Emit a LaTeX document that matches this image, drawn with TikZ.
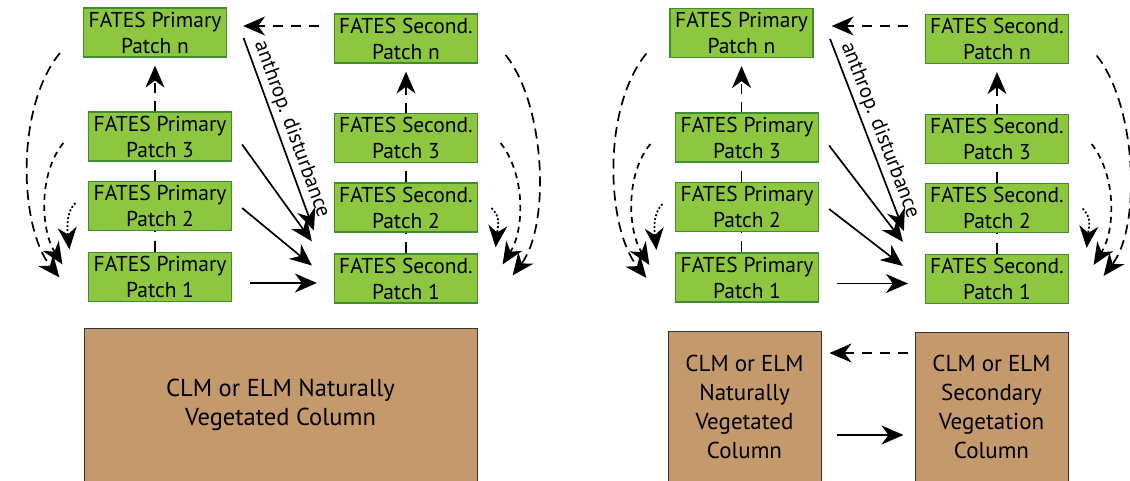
\documentclass[tikz,border=0pt]{standalone}
\usepackage{fontspec}
\setmainfont{PT Sans}
\definecolor{fatesgreen}{RGB}{141, 198, 63}
\definecolor{fatesedge}{RGB}{64, 140, 48}
\definecolor{clmbrown}{RGB}{196, 153, 108}
\usetikzlibrary{arrows.meta}

\begin{document}
\begin{tikzpicture}[x=1pt, y=-1pt,
        patch/.style={draw=fatesedge, line width=1.2pt, fill=fatesgreen, minimum width=143pt, minimum height=49pt, inner sep=0pt, align=center, font=\fontsize{21.5}{26}\selectfont},
        column/.style={draw=black!80, line width=1pt, fill=clmbrown, inner sep=0pt, align=center, font=\fontsize{23}{29}\selectfont},
        arrow/.style={-{Stealth[length=22pt, width=19pt, inset=7pt]}, line width=1.7pt},
        dasharrow/.style={arrow, dash pattern=on 10pt off 8pt},
        vline/.style={line width=1.7pt, dash pattern=on 11pt off 9pt},
        longarc/.style={arrow, dash pattern=on 10pt off 6pt},
        midarc/.style={arrow, dash pattern=on 6pt off 5pt},
        dotarc/.style={arrow, dash pattern=on 2pt off 2pt},
        disturb/.style={midway, sloped, above, font=\fontsize{21}{24}\selectfont}
      ]
        \useasboundingbox (0, 0) rectangle (1130, 481);

        % left panel: one naturally vegetated column
        \node[patch] (pn) at (155, 32.5)  {FATES Primary\\Patch n};
        \node[patch] (p3) at (160, 136.5) {FATES Primary\\Patch 3};
        \node[patch] (p2) at (160, 206)   {FATES Primary\\Patch 2};
        \node[patch] (p1) at (160, 277)   {FATES Primary\\Patch 1};
        \node[patch] (sn) at (406, 38.5)  {FATES Second.\\Patch n};
        \node[patch] (s3) at (406, 138)   {FATES Second.\\Patch 3};
        \node[patch] (s2) at (406, 207.5) {FATES Second.\\Patch 2};
        \node[patch] (s1) at (406, 278.5) {FATES Second.\\Patch 1};
        \node[column, minimum width=393pt, minimum height=154pt, font=\fontsize{24.5}{29}\selectfont] (natcol) at (280.5, 405) {CLM or ELM Naturally\\Vegetated Column};

        \draw[vline] (p1.north -| pn) -- (p2.south -| pn);
        \draw[vline] (p2.north -| pn) -- (p3.south -| pn);
        \draw[dasharrow, shorten >=8pt] (p3.north -| pn) -- (pn.south);
        \draw[vline] (s1.north) -- (s2.south);
        \draw[vline] (s2.north) -- (s3.south);
        \draw[dasharrow, shorten >=8pt] (s3.north) -- (sn.south);
        \draw[dasharrow, shorten <=15pt, shorten >=16pt] ([yshift=12.5pt]sn.west) -- ([yshift=6.5pt]pn.east);
        \draw[arrow] ([xshift=16.5pt, yshift=-5.5pt]pn.east) -- ([xshift=-20pt, yshift=2pt]s2.south west) node[disturb] {anthrop. disturbance};
        \draw[arrow] ([xshift=10pt, yshift=-8pt]p3.east) -- ([xshift=-22pt, yshift=12pt]s1.north west);
        \draw[arrow] ([xshift=10pt, yshift=-2pt]p2.east) -- ([xshift=-22pt, yshift=13pt]s1.west);
        \draw[arrow] ([xshift=18pt, yshift=-6pt]p1.east) -- ([xshift=-17pt, yshift=-4.5pt]s1.west);
        \draw[longarc] ([xshift=-23pt, yshift=-20.5pt]pn.west) .. controls +(-45, 55) and +(-40, -50) .. ([xshift=-28.5pt, yshift=-25.5pt]p1.north west);
        \draw[midarc] ([xshift=-24.5pt, yshift=-6.5pt]p3.west) .. controls +(-25, 30) and +(-22, -35) .. ([xshift=-25.5pt, yshift=-12.5pt]p1.north west);
        \draw[dotarc] ([xshift=-12.5pt, yshift=3pt]p2.west) .. controls +(-10, 10) and +(-2, -20) .. ([xshift=-18.5pt, yshift=2.5pt]p1.north west);
        \draw[longarc] ([xshift=27.5pt, yshift=-16.5pt]sn.east) .. controls +(40, 50) and +(38, -50) .. ([xshift=34.5pt, yshift=-22pt]s1.north east);
        \draw[midarc] ([xshift=22.5pt, yshift=-5pt]s3.east) .. controls +(25, 32) and +(22, -35) .. ([xshift=24.5pt, yshift=-11pt]s1.north east);
        \draw[dotarc] ([xshift=13.5pt, yshift=-0.5pt]s2.east) .. controls +(10, 10) and +(2, -20) .. ([xshift=17.5pt, yshift=6pt]s1.north east);

        % right panel: naturally vegetated and secondary columns
        \node[patch] (pnR) at (741.5, 33)  {FATES Primary\\Patch n};
        \node[patch] (p3R) at (747, 137.5) {FATES Primary\\Patch 3};
        \node[patch] (p2R) at (747, 207)   {FATES Primary\\Patch 2};
        \node[patch] (p1R) at (747, 277.5) {FATES Primary\\Patch 1};
        \node[patch] (snR) at (997, 39)    {FATES Second.\\Patch n};
        \node[patch] (s3R) at (997, 139)   {FATES Second.\\Patch 3};
        \node[patch] (s2R) at (997, 208)   {FATES Second.\\Patch 2};
        \node[patch] (s1R) at (997, 279)   {FATES Second.\\Patch 1};
        \node[column, minimum width=153pt, minimum height=152pt] (natR) at (744.5, 407) {CLM or ELM\\Naturally\\Vegetated\\Column};
        \node[column, minimum width=153pt, minimum height=150pt] (secR) at (991.5, 407) {CLM or ELM\\Secondary\\Vegetation\\Column};

        \draw[vline] (p1R.north -| pnR) -- (p2R.south -| pnR);
        \draw[vline] (p2R.north -| pnR) -- (p3R.south -| pnR);
        \draw[dasharrow, shorten >=8pt] (p3R.north -| pnR) -- (pnR.south);
        \draw[vline] (s1R.north) -- (s2R.south);
        \draw[vline] (s2R.north) -- (s3R.south);
        \draw[dasharrow, shorten >=8pt] (s3R.north) -- (snR.south);
        \draw[dasharrow, shorten <=17pt, shorten >=18pt] ([yshift=13pt]snR.west) -- ([yshift=7pt]pnR.east);
        \draw[arrow] ([xshift=16.5pt, yshift=-6pt]pnR.east) -- ([xshift=-21pt, yshift=2pt]s2R.south west) node[disturb] {anthrop. disturbance};
        \draw[arrow] ([xshift=10pt, yshift=-8pt]p3R.east) -- ([xshift=-22pt, yshift=12pt]s1R.north west);
        \draw[arrow] ([xshift=10pt, yshift=-2pt]p2R.east) -- ([xshift=-22pt, yshift=13pt]s1R.west);
        \draw[arrow] ([xshift=18pt, yshift=-6pt]p1R.east) -- ([xshift=-17pt, yshift=-4.5pt]s1R.west);
        \draw[longarc] ([xshift=-23pt, yshift=-20.5pt]pnR.west) .. controls +(-45, 55) and +(-40, -50) .. ([xshift=-28.5pt, yshift=-25.5pt]p1R.north west);
        \draw[midarc] ([xshift=-24.5pt, yshift=-6.5pt]p3R.west) .. controls +(-25, 30) and +(-22, -35) .. ([xshift=-25.5pt, yshift=-12.5pt]p1R.north west);
        \draw[dotarc] ([xshift=-12.5pt, yshift=3pt]p2R.west) .. controls +(-10, 10) and +(-2, -20) .. ([xshift=-18.5pt, yshift=2.5pt]p1R.north west);
        \draw[longarc] ([xshift=27.5pt, yshift=-16.5pt]snR.east) .. controls +(40, 50) and +(38, -50) .. ([xshift=34.5pt, yshift=-22pt]s1R.north east);
        \draw[midarc] ([xshift=22.5pt, yshift=-5pt]s3R.east) .. controls +(25, 32) and +(22, -35) .. ([xshift=24.5pt, yshift=-11pt]s1R.north east);
        \draw[dotarc] ([xshift=13.5pt, yshift=-0.5pt]s2R.east) .. controls +(10, 10) and +(2, -20) .. ([xshift=17.5pt, yshift=6pt]s1R.north east);
        \draw[dasharrow, shorten <=7pt, shorten >=8pt] ([yshift=54pt]secR.west) -- ([yshift=54pt]natR.east);
        \draw[arrow, shorten <=15pt, shorten >=11pt] ([yshift=-28pt]natR.east) -- ([yshift=-28pt]secR.west);
      \end{tikzpicture}
\end{document}
